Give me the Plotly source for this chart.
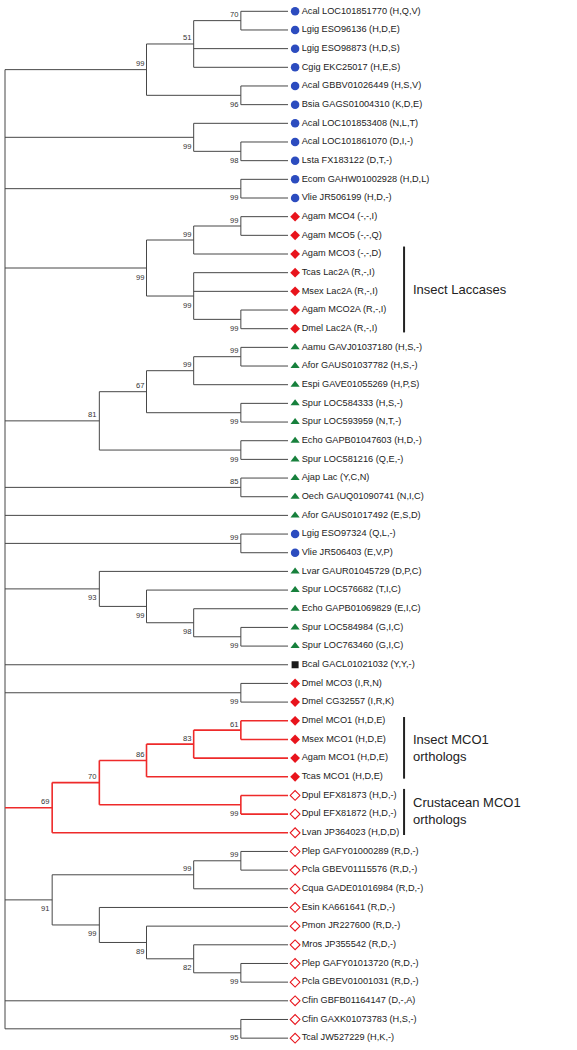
import plotly.graph_objects as go

# ---------------- data ----------------
leaf_names = [
    "Acal LOC101851770 (H,Q,V)", "Lgig ESO96136 (H,D,E)", "Lgig ESO98873 (H,D,S)", "Cgig EKC25017 (H,E,S)",
    "Acal GBBV01026449 (H,S,V)", "Bsia GAGS01004310 (K,D,E)", "Acal LOC101853408 (N,L,T)",
    "Acal LOC101861070 (D,I,-)", "Lsta FX183122 (D,T,-)", "Ecom GAHW01002928 (H,D,L)", "Vlie JR506199 (H,D,-)",
    "Agam MCO4 (-,-,I)", "Agam MCO5 (-,-,Q)", "Agam MCO3 (-,-,D)", "Tcas Lac2A (R,-,I)", "Msex Lac2A (R,-,I)",
    "Agam MCO2A (R,-,I)", "Dmel Lac2A (R,-,I)", "Aamu GAVJ01037180 (H,S,-)", "Afor GAUS01037782 (H,S,-)",
    "Espi GAVE01055269 (H,P,S)", "Spur LOC584333 (H,S,-)", "Spur LOC593959 (N,T,-)", "Echo GAPB01047603 (H,D,-)",
    "Spur LOC581216 (Q,E,-)", "Ajap Lac (Y,C,N)", "Oech GAUQ01090741 (N,I,C)", "Afor GAUS01017492 (E,S,D)",
    "Lgig ESO97324 (Q,L,-)", "Vlie JR506403 (E,V,P)", "Lvar GAUR01045729 (D,P,C)", "Spur LOC576682 (T,I,C)",
    "Echo GAPB01069829 (E,I,C)", "Spur LOC584984 (G,I,C)", "Spur LOC763460 (G,I,C)", "Bcal GACL01021032 (Y,Y,-)",
    "Dmel MCO3 (I,R,N)", "Dmel CG32557 (I,R,K)", "Dmel MCO1 (H,D,E)", "Msex MCO1 (H,D,E)", "Agam MCO1 (H,D,E)",
    "Tcas MCO1 (H,D,E)", "Dpul EFX81873 (H,D,-)", "Dpul EFX81872 (H,D,-)", "Lvan JP364023 (H,D,D)",
    "Plep GAFY01000289 (R,D,-)", "Pcla GBEV01115576 (R,D,-)", "Cqua GADE01016984 (R,D,-)", "Esin KA661641 (R,D,-)",
    "Pmon JR227600 (R,D,-)", "Mros JP355542 (R,D,-)", "Plep GAFY01013720 (R,D,-)", "Pcla GBEV01001031 (R,D,-)",
    "Cfin GBFB01164147 (D,-,A)", "Cfin GAXK01073783 (H,S,-)", "Tcal JW527229 (H,K,-)",
]
# group codes: M = mollusc (blue circle), I = insect (red diamond), E = echinoderm (green triangle),
# B = black square, C = crustacean (open red diamond)
leaf_groups = list("MMMMMMMMMMM" "IIIIIII" "EEEEEEEEEE" "MM" "EEEEE" "B" "IIIIII" "CCCCCCCCCCCCCC")

LEAF_LEVEL = 6


def N(level, boot, side, *children, red=False):
    return {"level": level, "boot": boot, "side": side, "children": list(children), "red": red}


tree = N(0, None, None,
         N(3, 99, "a", N(4, 51, "a", N(5, 70, "a", 0, 1), 2, 3), N(5, 96, "b", 4, 5)),
         N(4, 99, "b", 6, N(5, 98, "b", 7, 8)),
         N(5, 99, "b", 9, 10),
         N(3, 99, "b", N(4, 99, "a", N(5, 99, "a", 11, 12), 13), N(4, 99, "b", 14, 15, N(5, 99, "b", 16, 17))),
         N(2, 81, "a", N(3, 67, "a", N(4, 99, "a", N(5, 99, "a", 18, 19), 20), N(5, 99, "b", 21, 22)),
           N(5, 99, "b", 23, 24)),
         N(5, 85, "a", 25, 26),
         27,
         N(5, 99, "a", 28, 29),
         N(2, 93, "b", 30, N(3, 99, "b", 31, N(4, 98, "b", 32, N(5, 99, "b", 33, 34)))),
         35,
         N(5, 99, "b", 36, 37),
         N(1, 69, "a", N(2, 70, "a", N(3, 86, "a", N(4, 83, "a", N(5, 61, "a", 38, 39, red=True), 40, red=True),
                                        41, red=True), N(5, 99, "b", 42, 43, red=True), red=True), 44, red=True),
         N(1, 91, "b", N(4, 99, "a", N(5, 99, "a", 45, 46), 47),
           N(2, 99, "b", 48, N(3, 89, "b", 49, N(4, 82, "b", 50, N(5, 99, "b", 51, 52))))),
         53,
         N(5, 95, "b", 54, 55),
         )

brackets = [
    {"label": "Insect Laccases", "y0": 12.6, "y1": 17.2, "ty": 14.9},
    {"label": "Insect MCO1<br>orthologs", "y0": 37.8, "y1": 41.1, "ty": 39.45},
    {"label": "Crustacean MCO1<br>orthologs", "y0": 41.65, "y1": 44.12, "ty": 42.85},
]

# ---------------- layout computation ----------------
BLACK = "#474747"
RED = "#ee2a2a"

segs = {"black": ([], []), "red": ([], [])}
boot_annots = []


def add_seg(color, x0, y0, x1, y1):
    xs, ys = segs[color]
    xs += [x0, x1, None]
    ys += [y0, y1, None]


def walk(node):
    """returns (x, y) of node"""
    if isinstance(node, int):
        return LEAF_LEVEL, node
    pts = []
    for ch in node["children"]:
        cx, cy = walk(ch)
        ch_red = (not isinstance(ch, int) and ch["red"]) or (isinstance(ch, int) and node["red"])
        add_seg("red" if ch_red else "black", node["level"], cy, cx, cy)
        pts.append(cy)
    y = (min(pts) + max(pts)) / 2
    add_seg("red" if node["red"] else "black", node["level"], min(pts), node["level"], max(pts))
    if node["boot"] is not None:
        boot_annots.append((node["level"], y, node["boot"], node["side"]))
    return node["level"], y


walk(tree)

fig = go.Figure()
fig.add_trace(go.Scatter(x=segs["black"][0], y=segs["black"][1], mode="lines",
                         line=dict(color=BLACK, width=1), hoverinfo="skip", showlegend=False))
fig.add_trace(go.Scatter(x=segs["red"][0], y=segs["red"][1], mode="lines",
                         line=dict(color=RED, width=1.6), hoverinfo="skip", showlegend=False))

marker_styles = {
    "M": dict(symbol="circle", color="#2c4cbf", size=8.5, line=dict(width=0)),
    "I": dict(symbol="diamond", color="#e8141c", size=7.5, line=dict(width=0)),
    "E": dict(symbol="triangle-up", color="#17803c", size=8, line=dict(width=0)),
    "B": dict(symbol="square", color="#1a1a1a", size=7, line=dict(width=0)),
    "C": dict(symbol="diamond-open", color="#e8141c", size=7.5, line=dict(width=1.1, color="#e8141c")),
}
MARK_X = LEAF_LEVEL + 0.15
TEXT_X = LEAF_LEVEL + 0.29
for g, st in marker_styles.items():
    idx = [i for i, gg in enumerate(leaf_groups) if gg == g]
    fig.add_trace(go.Scatter(x=[MARK_X] * len(idx), y=idx, mode="markers", marker=st,
                             hoverinfo="skip", showlegend=False))

fig.add_trace(go.Scatter(x=[TEXT_X] * len(leaf_names), y=list(range(len(leaf_names))), mode="text",
                         text=leaf_names, textposition="middle right",
                         textfont=dict(family="Arial, Liberation Sans, sans-serif", size=9.2, color="#222"),
                         hoverinfo="skip", showlegend=False))

for (x, y, b, side) in boot_annots:
    fig.add_annotation(x=x, y=y, text=str(b), showarrow=False, xanchor="right", yanchor="middle",
                       xshift=-1, yshift=6 if side == "a" else -9,
                       font=dict(family="Arial, Liberation Sans, sans-serif", size=7.6, color="#333"))

BAR_X = 8.46
for br in brackets:
    fig.add_shape(type="line", x0=BAR_X, x1=BAR_X, y0=br["y0"], y1=br["y1"],
                  line=dict(color="#222", width=2))
    fig.add_annotation(x=BAR_X + 0.15, y=br["ty"], text=br["label"], showarrow=False,
                       xanchor="left", yanchor="middle", align="left",
                       font=dict(family="Arial, Liberation Sans, sans-serif", size=13, color="#222"))

px_per_level = 47.17
x0_px = 5
fig.update_xaxes(range=[-x0_px / px_per_level, (577 - x0_px) / px_per_level], visible=False, fixedrange=True)
px_per_leaf = 18.67
y0_px = 11.3
fig.update_yaxes(range=[(1050 - y0_px) / px_per_leaf, -y0_px / px_per_leaf], visible=False, fixedrange=True)
fig.update_layout(width=577, height=1050, margin=dict(l=0, r=0, t=0, b=0),
                  plot_bgcolor="white", paper_bgcolor="white", hovermode=False)

fig.write_html("out.html", config={"displayModeBar": False, "staticPlot": True},
               post_script="document.body.style.margin='0';document.body.style.overflow='hidden';")
